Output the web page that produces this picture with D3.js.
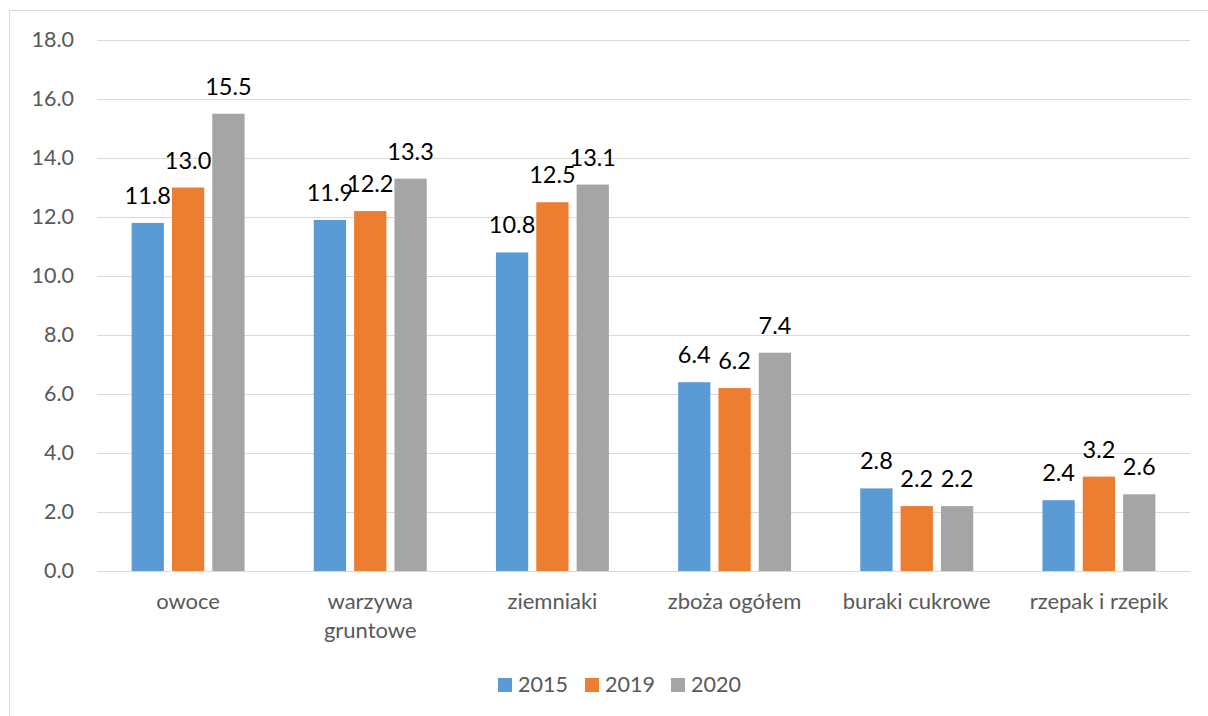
<!DOCTYPE html>
<html><head><meta charset="utf-8">
<script src="https://cdn.jsdelivr.net/npm/d3@7"></script>
<style>
html,body{margin:0;padding:0;background:#fff;}
svg{display:block;font-family:Lato,"Open Sans",sans-serif;}
</style></head>
<body>
<svg id="chart" width="1208" height="716"></svg>
<script>
const categories = [["owoce"], ["warzywa", "gruntowe"], ["ziemniaki"], ["zboża ogółem"], ["buraki cukrowe"], ["rzepak i rzepik"]];
const seriesNames = ["2015", "2019", "2020"];
const values2015 = [11.8, 11.9, 10.8, 6.4, 2.8, 2.4];
const values2019 = [13.0, 12.2, 12.5, 6.2, 2.2, 3.2];
const values2020 = [15.5, 13.3, 13.1, 7.4, 2.2, 2.6];
const yTicks = [0, 2, 4, 6, 8, 10, 12, 14, 16, 18];
const colors = ["#5b9bd5", "#ed7d31", "#a5a5a5"];

(function () {
const seriesValues = [values2015, values2019, values2020];
const svg = d3.select("#chart");

// chart border
svg.append("rect").attr("x", 9.5).attr("y", 10.5).attr("width", 1220).attr("height", 720)
  .attr("fill", "#fff").attr("stroke", "#d9d9d9").attr("stroke-width", 1);

const pLeft = 97, pRight = 1190, pTop = 40, pBottom = 571;
const x0 = d3.scaleBand().domain(d3.range(categories.length)).range([pLeft, pRight]).paddingInner(0).paddingOuter(0);
const cw = x0.bandwidth();
const groupW = cw * 0.62;
const x1 = d3.scaleBand().domain(d3.range(seriesNames.length)).range([(cw - groupW) / 2, (cw + groupW) / 2]).paddingInner(0.2).paddingOuter(0);
const y = d3.scaleLinear().domain([0, 18]).range([pBottom, pTop]);

// gridlines
svg.append("g").selectAll("line").data(yTicks).join("line")
  .attr("x1", pLeft).attr("x2", pRight)
  .attr("y1", d => Math.round(y(d)) + 0.5).attr("y2", d => Math.round(y(d)) + 0.5)
  .attr("stroke", "#d9d9d9").attr("stroke-width", 1);

// y axis labels
const yAxis = d3.axisLeft(y).tickValues(yTicks).tickFormat(d3.format(".1f")).tickSize(0).tickPadding(0);
const ya = svg.append("g").attr("transform", `translate(74,0)`).call(yAxis);
ya.select(".domain").remove();
ya.selectAll("text").attr("fill", "#595959").style("font-size", "21.5px").style("font-family", "Lato,'Open Sans',sans-serif");

// bars
const groups = svg.append("g").selectAll("g").data(categories).join("g")
  .attr("transform", (d, i) => `translate(${x0(i)},0)`);
groups.each(function (c, ci) {
  const g = d3.select(this);
  seriesValues.forEach((vals, si) => {
    g.append("rect")
      .attr("x", x1(si)).attr("width", x1.bandwidth())
      .attr("y", y(vals[ci])).attr("height", y(0) - y(vals[ci]))
      .attr("fill", colors[si]);
    g.append("text")
      .attr("x", x1(si) + x1.bandwidth() / 2).attr("y", y(vals[ci]) - 19)
      .attr("text-anchor", "middle").attr("fill", "#000")
      .style("font-size", "23.5px")
      .text(d3.format(".1f")(vals[ci]));
  });
  const t = g.append("text").attr("text-anchor", "middle").attr("fill", "#595959").style("font-size", "22px");
  c.forEach((line, li) => {
    t.append("tspan").attr("x", cw / 2).attr("y", 609 + li * 29).text(line);
  });
});

// legend
const legendX = [498, 585, 671];
const leg = svg.append("g").selectAll("g").data(seriesNames).join("g")
  .attr("transform", (d, i) => `translate(${legendX[i]},678)`);
leg.append("rect").attr("width", 14).attr("height", 14).attr("fill", (d, i) => colors[i]);
leg.append("text").attr("x", 20).attr("y", 13.5).attr("fill", "#595959").style("font-size", "21.5px").text(d => d);
})();
</script>
</body></html>
